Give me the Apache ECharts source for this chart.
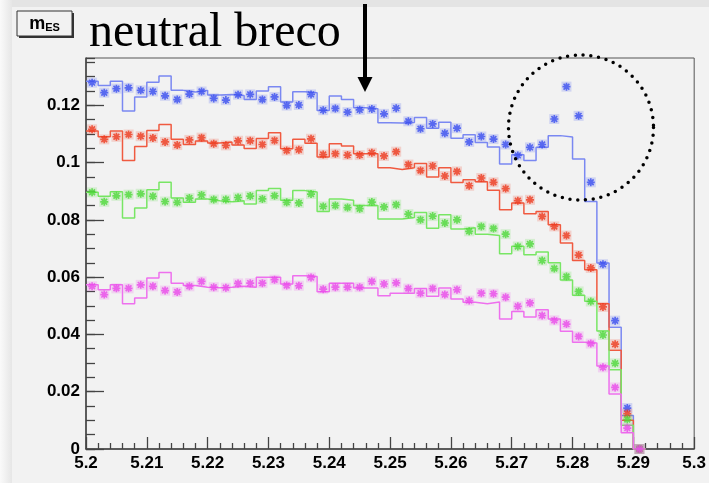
<!DOCTYPE html>
<html>
<head>
<meta charset="utf-8">
<script src="https://cdn.jsdelivr.net/npm/echarts@6/dist/echarts.min.js"></script>
<style>
  html, body { margin: 0; padding: 0; }
  body { width: 709px; height: 483px; background: #e4e4e4; overflow: hidden; }
  #chart { position: absolute; left: 0; top: 0; width: 709px; height: 483px; }
</style>
</head>
<body>
<div id="chart"></div>
<script>
// m_ES histogram: 0.002 GeV bins starting at 5.2
const binStart = 5.2;
const binWidth = 0.002;

// step-histogram contents (one value per bin)
const blueHist = [0.1284,0.1269,0.1284,0.1180,0.1229,0.1280,0.1302,0.1252,0.1246,0.1252,
  0.1236,0.1238,0.1234,0.1220,0.1250,0.1265,0.1211,0.1247,0.1244,0.1182,
  0.1232,0.1220,0.1191,0.1188,0.1139,0.1138,0.1140,0.1157,0.1120,0.1141,
  0.1085,0.1097,0.1070,0.1054,0.0995,0.1027,0.1007,0.1053,0.1094,0.1089,
  0.1012,0.0864,0.0649,0.0425,0.0117];
const redHist = [0.1110,0.1090,0.1110,0.1007,0.1056,0.1112,0.1133,0.1081,0.1063,0.1075,
  0.1068,0.1072,0.1061,0.1049,0.1084,0.1104,0.1048,0.1081,0.1067,0.1019,
  0.1066,0.1058,0.1031,0.1031,0.0982,0.0976,0.0982,0.0997,0.0950,0.0982,
  0.0930,0.0940,0.0933,0.0903,0.0835,0.0859,0.0821,0.0829,0.0783,0.0719,
  0.0658,0.0626,0.0507,0.0345,0.0100];
const greenHist = [0.0896,0.0882,0.0898,0.0806,0.0841,0.0905,0.0931,0.0876,0.0861,0.0873,
  0.0867,0.0863,0.0867,0.0855,0.0902,0.0909,0.0868,0.0902,0.0897,0.0829,
  0.0873,0.0868,0.0850,0.0850,0.0803,0.0803,0.0808,0.0826,0.0771,0.0818,
  0.0768,0.0772,0.0750,0.0745,0.0682,0.0708,0.0678,0.0688,0.0650,0.0590,
  0.0537,0.0516,0.0412,0.0277,0.0083];
const magentaHist = [0.0573,0.0556,0.0573,0.0507,0.0527,0.0597,0.0616,0.0579,0.0571,0.0565,
  0.0563,0.0565,0.0568,0.0565,0.0600,0.0600,0.0576,0.0605,0.0602,0.0549,
  0.0579,0.0579,0.0562,0.0562,0.0535,0.0544,0.0544,0.0560,0.0533,0.0562,
  0.0524,0.0512,0.0507,0.0513,0.0454,0.0480,0.0461,0.0486,0.0454,0.0411,
  0.0373,0.0370,0.0290,0.0192,0.0057];

// star-marker points (one value per bin centre, last bin empty)
const bluePts = [0.1279,0.1244,0.1258,0.1261,0.1252,0.1248,0.1233,0.1220,0.1239,0.1248,
  0.1224,0.1218,0.1237,0.1238,0.1220,0.1229,0.1199,0.1201,0.1238,0.1183,
  0.1189,0.1176,0.1184,0.1187,0.1170,0.1190,0.1144,0.1118,0.1135,0.1102,
  0.1120,0.1072,0.1091,0.1082,0.1063,0.1025,0.1053,0.1063,0.1152,0.1265,
  0.1163,0.0931,0.0645,0.0448,0.0143,0];
const redPts = [0.1116,0.1081,0.1090,0.1098,0.1092,0.1086,0.1072,0.1061,0.1079,0.1087,
  0.1066,0.1060,0.1076,0.1076,0.1063,0.1077,0.1042,0.1045,0.1083,0.1028,
  0.1031,0.1026,0.1026,0.1034,0.1023,0.1038,0.0993,0.0972,0.0988,0.0953,
  0.0969,0.0919,0.0946,0.0931,0.0909,0.0867,0.0870,0.0812,0.0777,0.0745,
  0.0677,0.0632,0.0496,0.0366,0.0123,0];
const greenPts = [0.0896,0.0863,0.0884,0.0888,0.0891,0.0882,0.0864,0.0861,0.0876,0.0887,
  0.0871,0.0871,0.0878,0.0883,0.0873,0.0884,0.0861,0.0859,0.0890,0.0847,
  0.0850,0.0843,0.0839,0.0862,0.0845,0.0853,0.0820,0.0800,0.0813,0.0789,
  0.0800,0.0760,0.0777,0.0770,0.0750,0.0707,0.0716,0.0658,0.0630,0.0602,
  0.0550,0.0515,0.0398,0.0299,0.0103,0];
const magentaPts = [0.0568,0.0539,0.0561,0.0561,0.0573,0.0568,0.0553,0.0548,0.0568,0.0585,
  0.0565,0.0563,0.0578,0.0579,0.0579,0.0591,0.0571,0.0570,0.0599,0.0558,
  0.0565,0.0565,0.0565,0.0585,0.0576,0.0580,0.0560,0.0544,0.0560,0.0539,
  0.0556,0.0518,0.0544,0.0542,0.0530,0.0498,0.0510,0.0466,0.0449,0.0436,
  0.0393,0.0368,0.0285,0.0215,0.0073,0];

// axis tick labels
const xTicks = ['5.2','5.21','5.22','5.23','5.24','5.25','5.26','5.27','5.28','5.29','5.3'];
const yTicks = ['0','0.02','0.04','0.06','0.08','0.1','0.12'];

const seriesDefs = [
  { name: 'blue',    hist: blueHist,    pts: bluePts,    line: '#7a88f2', mark: '#3a4ef0' },
  { name: 'red',     hist: redHist,     pts: redPts,     line: '#f05a40', mark: '#ee3a1e' },
  { name: 'green',   hist: greenHist,   pts: greenPts,   line: '#78e664', mark: '#4ed83a' },
  { name: 'magenta', hist: magentaHist, pts: magentaPts, line: '#ee70ee', mark: '#ea4aea' }
];

const round = v => Math.round(v * 1e6) / 1e6;

function histPoints(vals) {
  const pts = vals.map((v, i) => [round(binStart + i * binWidth), v]);
  const endX = round(binStart + vals.length * binWidth);
  pts.push([endX, 0]);
  pts.push([round(endX + binWidth), 0]);
  return pts;
}
function markerPoints(vals) {
  return vals.map((v, i) => [round(binStart + (i + 0.5) * binWidth), v]);
}

const starPath = 'path://M5,0L5,10M0,5L10,5M1.4,1.4L8.6,8.6M1.4,8.6L8.6,1.4';

const series = [];
seriesDefs.forEach((d, k) => {
  series.push({
    name: d.name + '-hist', type: 'line', step: 'end',
    data: histPoints(d.hist), symbol: 'none', z: 2 + k * 3,
    lineStyle: { color: d.line, width: 1.5 }, animation: false, silent: true
  });
  // soft square halo behind each star
  series.push({
    name: d.name + '-halo', type: 'scatter', data: markerPoints(d.pts),
    symbol: 'rect', symbolSize: 10, z: 3 + k * 3,
    itemStyle: { color: d.mark, opacity: 0.18 }, animation: false, silent: true
  });
  series.push({
    name: d.name + '-pts', type: 'scatter', data: markerPoints(d.pts),
    symbol: starPath, symbolSize: 8, z: 4 + k * 3,
    itemStyle: { color: d.mark, borderColor: d.mark, borderWidth: 1.7 },
    animation: false, silent: true
  });
});

const labelFont = { fontFamily: 'Liberation Sans', fontWeight: 'bold', fontSize: 17, color: '#000' };

const chart = echarts.init(document.getElementById('chart'), null, { renderer: 'canvas' });
chart.setOption({
  backgroundColor: 'transparent',
  animation: false,
  grid: { left: 86, right: 13, top: 58, bottom: 34, show: true, borderColor: '#555', borderWidth: 1, backgroundColor: 'transparent' },
  xAxis: {
    type: 'value', min: 5.2, max: 5.3, interval: 0.01,
    axisLine: { show: true, onZero: false, lineStyle: { color: '#444', width: 1.5 } },
    axisTick: { show: true, inside: true, length: 12, lineStyle: { color: '#444', width: 1.3 } },
    minorTick: { show: true, splitNumber: 5, length: 6, lineStyle: { color: '#444', width: 1.3 } },
    splitLine: { show: false },
    axisLabel: Object.assign({ margin: 6, formatter: v => xTicks[Math.round((v - 5.2) / 0.01)] || '' }, labelFont)
  },
  yAxis: [
    {
      type: 'value', min: 0, max: 0.1365, interval: 0.02,
      axisLine: { show: true, lineStyle: { color: '#444', width: 1.5 } },
      axisTick: { show: true, inside: true, length: 18, lineStyle: { color: '#444', width: 1.3 } },
      splitLine: { show: false },
      axisLabel: Object.assign({ margin: 6, showMaxLabel: false,
        formatter: v => { const i = Math.round(v / 0.02); return Math.abs(v - i * 0.02) < 1e-6 ? (yTicks[i] || '') : ''; } }, labelFont)
    },
    {
      type: 'value', min: 0, max: 0.1365, interval: 0.005, position: 'left',
      axisLine: { show: false },
      axisTick: { show: true, inside: true, length: 9, lineStyle: { color: '#444', width: 1.3 } },
      splitLine: { show: false },
      axisLabel: { show: false }
    }
  ],
  series: series,
  graphic: [
    // canvas area
    { type: 'rect', z: -10, shape: { x: 12, y: 7, width: 697, height: 476 }, style: { fill: '#f2f2f2' } },
    { type: 'rect', z: -11, shape: { x: 0, y: 0, width: 12, height: 483 },
      style: { fill: new echarts.graphic.LinearGradient(0, 0, 1, 0, [{ offset: 0, color: '#fafafa' }, { offset: 1, color: '#e6e6e6' }]) } },
    // title box with shadow
    { type: 'rect', z: 20, shape: { x: 19, y: 13, width: 55, height: 25 }, style: { fill: '#333' } },
    { type: 'rect', z: 21, shape: { x: 17, y: 11, width: 55, height: 25 }, style: { fill: '#f2f2f2', stroke: '#333', lineWidth: 1 } },
    { type: 'text', z: 22, x: 44.5, y: 24,
      style: { text: '{m|m}{s|ES}', align: 'center', verticalAlign: 'middle',
        rich: { m: { fontFamily: 'Liberation Sans', fontWeight: 'bold', fontSize: 18, fill: '#000' },
                s: { fontFamily: 'Liberation Sans', fontWeight: 'bold', fontSize: 11, fill: '#000', padding: [8, 0, 0, 0] } } } },
    // annotation text
    { type: 'text', z: 22, x: 89, y: 9,
      style: { text: 'neutral breco', fontFamily: 'Liberation Serif', fontSize: 48, fill: '#000', verticalAlign: 'top' } },
    // arrow
    { type: 'line', z: 22, shape: { x1: 365, y1: 4, x2: 365, y2: 80 }, style: { stroke: '#000', lineWidth: 4 } },
    { type: 'polygon', z: 22, shape: { points: [[357.5, 77], [372.5, 77], [365, 92]] }, style: { fill: '#000' } },
    // dotted circle
    { type: 'circle', z: 22, shape: { cx: 581, cy: 127.5, r: 72.5 },
      style: { fill: 'none', stroke: '#000', lineWidth: 3.5, lineDash: [0, 7.8], lineCap: 'round' } }
  ]
});
</script>
</body>
</html>
